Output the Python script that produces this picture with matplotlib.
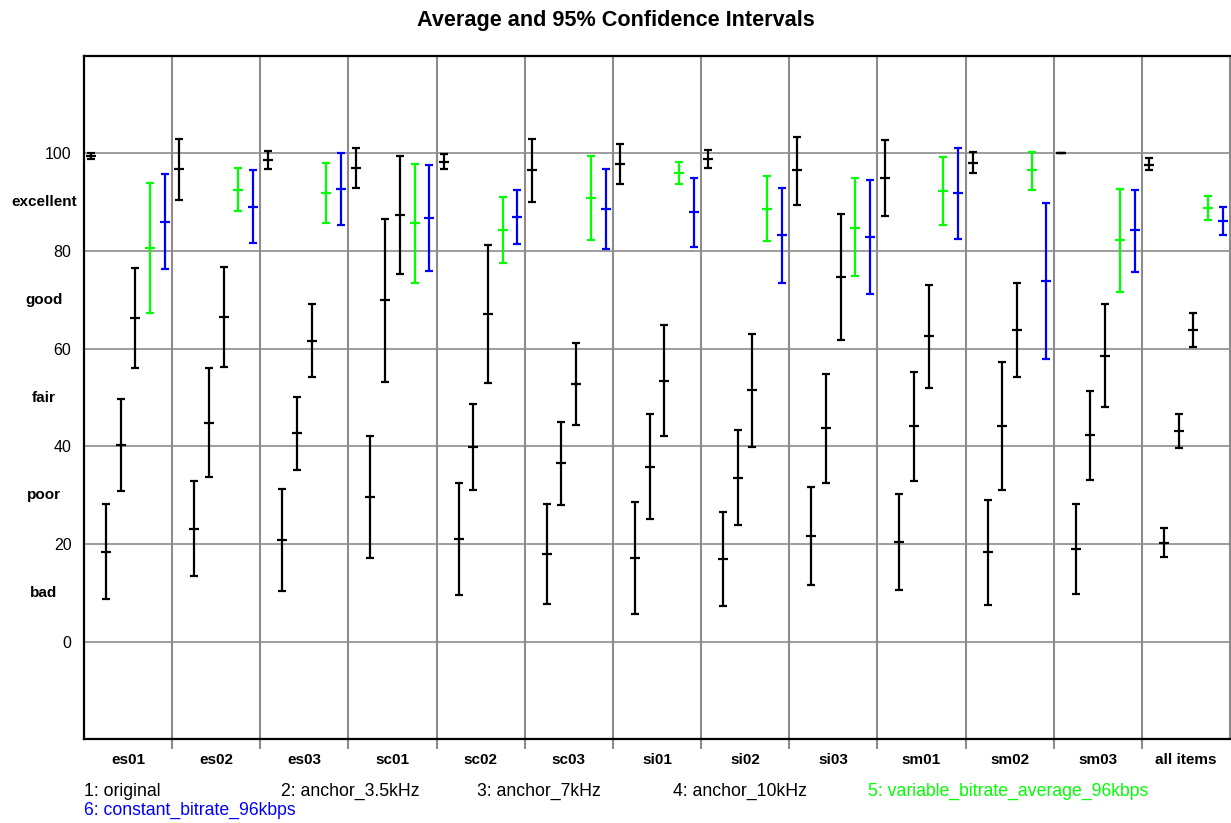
import matplotlib
matplotlib.use("Agg")
import matplotlib.pyplot as plt
import numpy as np

plt.rcParams["font.family"] = ["Liberation Sans", "DejaVu Sans"]

# items on the x axis
items = ["es01", "es02", "es03", "sc01", "sc02", "sc03", "si01", "si02",
         "si03", "sm01", "sm02", "sm03", "all items"]

conditions = ["1: original", "2: anchor_3.5kHz", "3: anchor_7kHz",
              "4: anchor_10kHz", "5: variable_bitrate_average_96kbps",
              "6: constant_bitrate_96kbps"]
colors = ["black", "black", "black", "black", "#00ff00", "#0000ff"]

# mean, lower and upper bound of the 95% CI, one value per item
orig_mean = [99.5, 96.7, 98.6, 97.1, 98.3, 96.5, 97.9, 98.9, 96.5, 94.9, 98.1, 100.0, 97.7]
orig_lo   = [98.8, 90.4, 96.7, 93.0, 96.9, 90.0, 93.8, 97.1, 89.5, 87.2, 96.0, 100.0, 96.5]
orig_hi   = [100.1, 102.9, 100.4, 101.2, 99.8, 102.9, 102.0, 100.7, 103.4, 102.7, 100.2, 100.0, 99.0]

a35_mean = [18.4, 23.1, 20.9, 29.7, 21.0, 17.9, 17.1, 16.9, 21.6, 20.4, 18.4, 18.9, 20.3]
a35_lo   = [8.7, 13.5, 10.4, 17.2, 9.6, 7.8, 5.7, 7.2, 11.5, 10.6, 7.6, 9.7, 17.4]
a35_hi   = [28.2, 32.8, 31.3, 42.2, 32.5, 28.1, 28.6, 26.6, 31.7, 30.3, 29.0, 28.1, 23.3]

a7_mean = [40.3, 44.8, 42.7, 69.9, 39.8, 36.5, 35.8, 33.6, 43.7, 44.1, 44.2, 42.4, 43.1]
a7_lo   = [30.9, 33.8, 35.2, 53.2, 31.0, 27.9, 25.1, 23.8, 32.4, 33.0, 31.1, 33.2, 39.7]
a7_hi   = [49.6, 56.0, 50.2, 86.6, 48.6, 45.0, 46.6, 43.3, 54.9, 55.2, 57.3, 51.4, 46.6]

a10_mean = [66.3, 66.5, 61.6, 87.3, 67.2, 52.8, 53.4, 51.5, 74.7, 62.5, 63.9, 58.6, 63.9]
a10_lo   = [56.1, 56.2, 54.3, 75.2, 53.0, 44.4, 42.1, 39.8, 61.7, 51.9, 54.3, 48.1, 60.3]
a10_hi   = [76.6, 76.7, 69.1, 99.5, 81.2, 61.2, 64.8, 63.1, 87.6, 73.1, 73.5, 69.2, 67.4]

vbr_mean = [80.6, 92.5, 91.9, 85.7, 84.4, 90.9, 96.0, 88.7, 84.8, 92.3, 96.5, 82.3, 88.9]
vbr_lo   = [67.3, 88.1, 85.8, 73.5, 77.6, 82.3, 93.7, 82.0, 74.8, 85.3, 92.6, 71.6, 86.4]
vbr_hi   = [93.9, 97.1, 98.0, 97.8, 91.1, 99.5, 98.3, 95.3, 94.9, 99.3, 100.3, 92.8, 91.3]

cbr_mean = [86.0, 89.1, 92.7, 86.8, 86.9, 88.7, 87.9, 83.2, 82.9, 91.8, 73.8, 84.3, 86.2]
cbr_lo   = [76.4, 81.7, 85.4, 75.9, 81.4, 80.4, 80.8, 73.4, 71.2, 82.5, 57.8, 75.8, 83.3]
cbr_hi   = [95.7, 96.6, 100.0, 97.7, 92.4, 96.9, 94.9, 93.0, 94.6, 101.1, 89.8, 92.6, 89.0]

means = [orig_mean, a35_mean, a7_mean, a10_mean, vbr_mean, cbr_mean]
lows = [orig_lo, a35_lo, a7_lo, a10_lo, vbr_lo, cbr_lo]
highs = [orig_hi, a35_hi, a7_hi, a10_hi, vbr_hi, cbr_hi]

fig = plt.figure(figsize=(12.31, 8.23), dpi=100)
ax = fig.add_axes([0.0682, 0.1017, 0.9310, 0.8306])

n = len(items)
ncond = len(conditions)
base = np.arange(n)
for j in range(ncond):
    m = np.array(means[j])
    lo = np.array(lows[j])
    hi = np.array(highs[j])
    x = base + (j + 0.5) / ncond
    ax.errorbar(x, m, yerr=[m - lo, hi - m], fmt="_", color=colors[j],
                ecolor=colors[j], elinewidth=1.6, capsize=2.6, capthick=1.6,
                markersize=7.5, markeredgewidth=1.6, zorder=3)

ax.set_xlim(0, n)
ax.set_ylim(-20, 120)

# group separators
ax.set_xticks(np.arange(1, n), minor=True)
ax.set_xticks(base + 0.5)
ax.set_xticklabels(items, fontweight="bold", fontsize=11)
ax.tick_params(axis="x", which="major", length=0, pad=10)
ax.tick_params(axis="x", which="minor", length=7, width=1.5, color="#8c8c8c")
ax.grid(True, axis="x", which="minor", color="#8c8c8c", lw=1.5, zorder=1)

ax.set_yticks([0, 20, 40, 60, 80, 100])
ax.set_yticklabels(["0", "20", "40", "60", "80", "100"], fontsize=11.5)
ax.tick_params(axis="y", length=0, pad=9)
ax.grid(True, axis="y", which="major", color="#8c8c8c", lw=1.2, zorder=1)

# quality labels on the left
quality = ["bad", "poor", "fair", "good", "excellent"]
for k, q in enumerate(quality):
    ax.text(-0.035, 10 + 20 * k, q, transform=ax.get_yaxis_transform(),
            ha="center", va="center", fontsize=11, fontweight="bold")

for s in ["top", "left", "bottom"]:
    ax.spines[s].set_color("black")
    ax.spines[s].set_linewidth(1.6)
ax.spines["right"].set_color("#8c8c8c")
ax.spines["right"].set_linewidth(1.5)

fig.text(0.5, 0.975, "Average and 95% Confidence Intervals", ha="center",
         va="center", fontsize=15.6, fontweight="bold")

# legend as plain text rows
leg_x = [84, 281, 477, 673, 868]
for j in range(5):
    fig.text(leg_x[j] / 1231, 1 - 791 / 823, conditions[j], color=colors[j],
             ha="left", va="center", fontsize=12.7)
fig.text(84 / 1231, 1 - 810 / 823, conditions[5], color=colors[5],
         ha="left", va="center", fontsize=12.7)

fig.savefig("out.png", dpi=100)
